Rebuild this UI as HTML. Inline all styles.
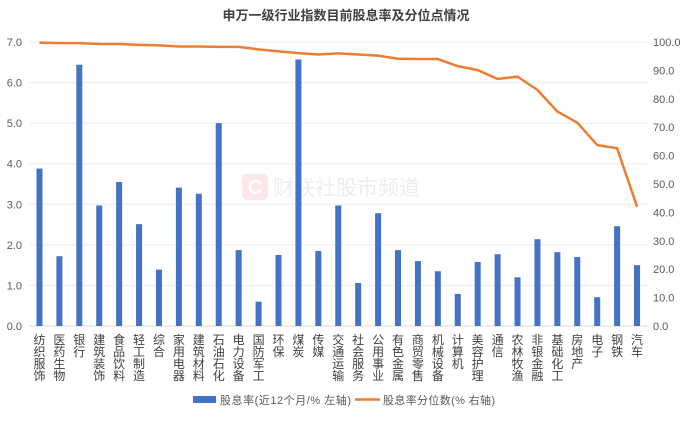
<!DOCTYPE html>
<html><head><meta charset="utf-8"><style>
body{margin:0;background:#fff;font-family:"Liberation Sans","Noto Sans CJK SC",sans-serif;}
</style></head><body>
<svg id="c" width="692" height="416" xmlns="http://www.w3.org/2000/svg">
<text x="346" y="20" text-anchor="middle" font-size="13" font-weight="bold" fill="#404040" font-family="Liberation Sans, Noto Sans CJK SC, sans-serif">申万一级行业指数目前股息率及分位点情况</text>
<g opacity="0.25">
<rect x="242" y="174" width="26" height="26" rx="5" fill="#f4a0a0"/>
<text x="255" y="194" text-anchor="middle" font-size="20" font-weight="bold" fill="#fff">C</text>
<text x="273" y="195" font-size="21" fill="#bbb" font-family="Liberation Sans, Noto Sans CJK SC, sans-serif">财联社股市频道</text>
</g>
<g id="grid"></g><g id="bars"></g><g id="line"></g><g id="axes"></g>
<g font-family="Liberation Sans, Noto Sans CJK SC, sans-serif" font-size="11" fill="#595959">
<rect x="193" y="396" width="23" height="7" fill="#4472C4"/>
<text x="220" y="404" textLength="131">股息率(近12个月/% 左轴)</text>
<line x1="355" y1="399.5" x2="380" y2="399.5" stroke="#ED7D31" stroke-width="2.5"/>
<text x="383" y="404" textLength="112">股息率分位数(% 右轴)</text>
</g>
</svg>
<script>
const categories=["纺织服饰","医药生物","银行","建筑装饰","食品饮料","轻工制造","综合","家用电器","建筑材料","石油石化","电力设备","国防军工","环保","煤炭","传媒","交通运输","社会服务","公用事业","有色金属","商贸零售","机械设备","计算机","美容护理","通信","农林牧渔","非银金融","基础化工","房地产","电子","钢铁","汽车"];
const yieldValues=[3.88,1.72,6.44,2.97,3.55,2.51,1.39,3.41,3.26,5.0,1.87,0.6,1.75,6.57,1.85,2.97,1.06,2.78,1.87,1.6,1.35,0.79,1.58,1.77,1.2,2.14,1.82,1.7,0.71,2.46,1.5];
const percentileValues=[99.8,99.6,99.6,99.3,99.3,99.0,98.8,98.4,98.4,98.3,98.3,97.4,96.7,96.1,95.6,96.0,95.6,95.2,94.1,94.0,94.0,91.5,90.1,87.0,87.8,83.1,75.5,71.6,63.7,62.6,42.0];
const leftTicks=["0.0","1.0","2.0","3.0","4.0","5.0","6.0","7.0"];
const rightTicks=["0.0","10.0","20.0","30.0","40.0","50.0","60.0","70.0","80.0","90.0","100.0"];
const NS="http://www.w3.org/2000/svg";
const X0=29.5,X1=647,YT=42,YB=326;
const band=(X1-X0)/categories.length;
const xc=i=>X0+band*(i+0.5);
const yL=v=>YB-(v/7)*(YB-YT);
const yR=v=>YB-(v/100)*(YB-YT);
function mk(t,a,p){const e=document.createElementNS(NS,t);for(const k in a)e.setAttribute(k,a[k]);p.appendChild(e);return e;}
const grid=document.getElementById('grid'),bars=document.getElementById('bars'),line=document.getElementById('line'),axes=document.getElementById('axes');
leftTicks.forEach(t=>{const y=yL(parseFloat(t));
const g=mk('line',{x1:X0,x2:X1,y1:y,y2:y,stroke:t==="0.0"?"#d9d9d9":"#ececec"},grid);


const tx=mk('text',{x:22,y:y+4,'text-anchor':'end','font-size':11,fill:'#595959'},axes);tx.textContent=t;

});
rightTicks.forEach(t=>{const y=yR(parseFloat(t));
const tx=mk('text',{x:653,y:y+4,'font-size':11,fill:'#595959'},axes);tx.textContent=t;

});
yieldValues.forEach((v,i)=>{const r=mk('rect',{x:xc(i)-3,y:yL(v),width:6,height:YB-yL(v),fill:'#4472C4'},bars);

});
const pts=percentileValues.map((v,i)=>xc(i)+','+yR(v)).join(' ');
const pl=mk('polyline',{points:pts,fill:'none',stroke:'#ED7D31','stroke-width':2.5,'stroke-linejoin':'round'},line);


categories.forEach((c,i)=>{const tx=mk('text',{x:xc(i),'font-size':12,fill:'#404040','text-anchor':'middle','font-family':'Liberation Sans, Noto Sans CJK SC, sans-serif'},axes);
[...c].forEach((ch,j)=>{const s=mk('tspan',{x:xc(i),y:344+j*12},tx);s.textContent=ch;});

});
</script>
</body></html>
